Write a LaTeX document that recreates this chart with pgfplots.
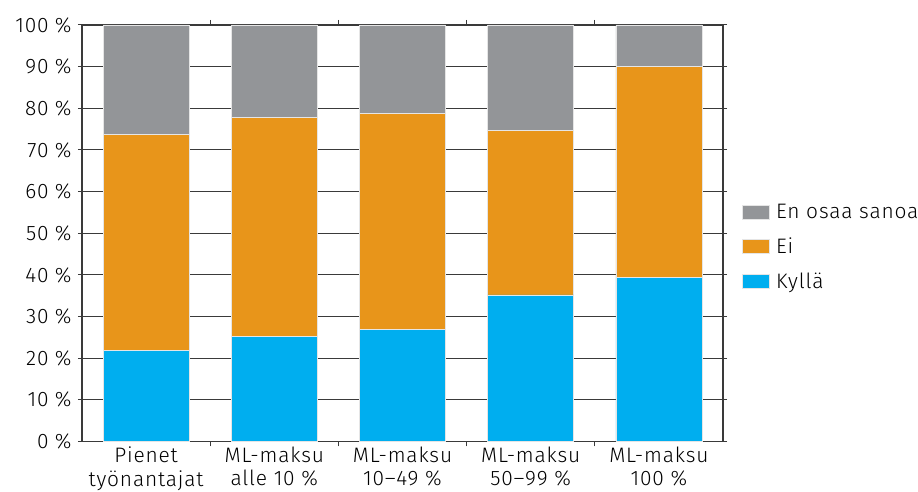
\documentclass[border=0pt]{standalone}
\usepackage{fontspec}
\setmainfont{Fira Sans}[UprightFont=* Light, LetterSpace=4]
\usepackage{pgfplots}
\pgfplotsset{compat=1.18}
\definecolor{cgray}{HTML}{939598}
\definecolor{corange}{HTML}{E8951A}
\definecolor{cblue}{HTML}{00AEEF}
\definecolor{gridc}{HTML}{3A3A3A}
\begin{document}
\begin{tikzpicture}
\useasboundingbox (0,0) rectangle (918bp,492bp);
\begin{axis}[
  at={(82bp,50.5bp)}, anchor=south west,
  scale only axis, width=641bp, height=416.5bp,
  ymin=0, ymax=100, xmin=-0.5, xmax=4.5,
  ybar stacked, bar width=86bp,
  ytick={0,10,...,100},
  yticklabel={\pgfmathprintnumber[assume math mode=true]{\tick}\hspace{0.3em}\%},
  xtick={0,1,2,3,4},
  xticklabels={{Pienet\\työnantajat},{ML-maksu\\alle 10 \%},{ML-maksu\\10–49 \%},{ML-maksu\\50–99 \%},{ML-maksu\\100 \%}},
  xticklabel style={align=center, font=\fontsize{21}{23.5}\selectfont, yshift=2bp},
  yticklabel style={font=\fontsize{21}{24}\selectfont, xshift=-3bp},
  minor xtick={0.5,1.5,2.5,3.5},
  major x tick style={draw=none},
  minor x tick style={draw=gridc, line width=1pt},
  minor tick length=5bp,
  major tick length=4bp,
  tick align=outside,
  ymajorgrids,
  grid style={draw=gridc, line width=1pt},
  y tick style={draw=gridc, line width=1pt},
  axis line style={draw=gridc, line width=1.2pt},
  legend cell align=left,
  legend style={at={(1.03,0.467)}, anchor=west, draw=none, fill=none,
    font=\fontsize{21}{24}\selectfont, row sep=14bp, inner sep=0pt,
    /tikz/every even column/.append style={column sep=2bp}},
  legend image code/.code={\fill[#1] (0bp,-7bp) rectangle (27bp,7bp);},
  reverse legend,
]
\addplot[fill=cblue, draw=white!80!gray, line width=0.6pt] coordinates {(0,21.8) (1,25.2) (2,27.0) (3,35.2) (4,39.4)};
\addlegendentry{\hspace{4bp}Kyllä}
\addplot[fill=corange, draw=white!80!gray, line width=0.6pt] coordinates {(0,52.0) (1,52.7) (2,51.8) (3,39.4) (4,50.7)};
\addlegendentry{\hspace{4bp}Ei}
\addplot[fill=cgray, draw=white!80!gray, line width=0.6pt] coordinates {(0,26.2) (1,22.1) (2,21.2) (3,25.4) (4,9.9)};
\addlegendentry{\hspace{4bp}En osaa sanoa}
\end{axis}
\end{tikzpicture}
\end{document}
